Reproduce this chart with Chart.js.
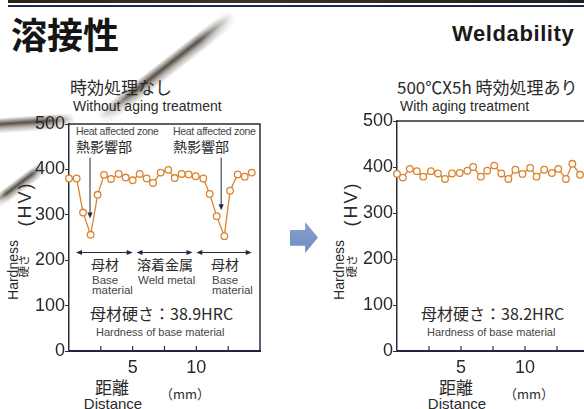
<!DOCTYPE html>
<html>
<head>
<meta charset="utf-8">
<script src="https://cdn.jsdelivr.net/npm/chart.js@4.4.1/dist/chart.umd.min.js"></script>
<style>
  body { margin: 0; width: 584px; height: 409px; overflow: hidden; background: #fff; position: relative;
         font-family: "Liberation Sans", Arial, sans-serif; color: #2a2a2a; }
  .t { position: absolute; white-space: nowrap; line-height: 1; transform: translateY(-50%); }
  .c { position: absolute; white-space: nowrap; line-height: 1; transform: translate(-50%, -50%); }
  .r { position: absolute; white-space: nowrap; line-height: 1; transform: translate(-50%, -50%) rotate(-90deg); }
  .jp { font-family: "Noto Sans CJK JP", sans-serif; }
  .sm { color: #454545; }
  canvas { position: absolute; }
  .streak { position: absolute; background: linear-gradient(to bottom, rgba(255,255,255,0), rgba(45,35,25,.8) 40%, rgba(90,80,65,.45) 65%, rgba(255,255,255,0));
            -webkit-mask-image: linear-gradient(to right, transparent, #000 25%, #000 75%, transparent); }
</style>
</head>
<body>
<!-- header -->
<div style="position:absolute;left:8px;top:0;width:576px;height:3px;background:linear-gradient(to right,#2a2418,#3b3326 40%,#1f1f22)"></div>
<div style="position:absolute;left:8px;top:5px;width:576px;height:1.5px;background:#1d2b52"></div>
<div class="t jp" style="left:11px;top:33px;font-size:36px;font-weight:700;color:#151515">溶接性</div>
<div class="t" style="left:452px;top:34px;font-size:22px;font-weight:700;letter-spacing:0.6px;color:#1a1a1a">Weldability</div>

<!-- scan shading -->
<div class="streak" style="left:82px;top:59px;width:170px;height:18px;transform:rotate(-38deg)"></div>
<div class="streak" style="left:-25px;top:116px;width:100px;height:16px;transform:rotate(-4deg)"></div>
<div class="streak" style="left:-12px;top:178px;width:64px;height:14px;transform:rotate(-37deg)"></div>

<!-- left panel texts -->
<div class="t jp" style="left:70px;top:86px;font-size:17px">時効処理なし</div>
<div class="t" style="left:73px;top:106px;font-size:14px">Without aging treatment</div>
<div class="r" style="left:25px;top:204px;font-size:18px;letter-spacing:2px">(HV)</div>
<div class="r" style="left:13px;top:270px;font-size:14px">Hardness</div>
<div class="r jp" style="left:24px;top:266px;font-size:11.5px">硬さ</div>
<div class="c jp" style="left:112px;top:386px;font-size:17px">距離</div>
<div class="c" style="left:113px;top:403px;font-size:15px">Distance</div>
<div class="c jp" style="left:185px;top:393px;font-size:13px">（mm）</div>

<div class="t sm" style="left:76px;top:131px;font-size:10.5px;letter-spacing:-0.3px">Heat affected zone</div>
<div class="t jp" style="left:76px;top:146px;font-size:14px">熱影響部</div>
<div class="t sm" style="left:173px;top:131px;font-size:10.5px;letter-spacing:-0.3px">Heat affected zone</div>
<div class="t jp" style="left:173px;top:146px;font-size:14px">熱影響部</div>
<div class="c jp" style="left:105px;top:264px;font-size:14px">母材</div>
<div class="c jp" style="left:165px;top:264px;font-size:14px">溶着金属</div>
<div class="c jp" style="left:225px;top:264px;font-size:14px">母材</div>
<div class="t sm" style="left:92px;top:281px;font-size:11.5px">Base</div>
<div class="t sm" style="left:92px;top:291px;font-size:11.5px">material</div>
<div class="t sm" style="left:138px;top:281px;font-size:11.5px">Weld metal</div>
<div class="t sm" style="left:212px;top:281px;font-size:11.5px">Base</div>
<div class="t sm" style="left:212px;top:291px;font-size:11.5px">material</div>
<div class="t jp" style="left:90px;top:313px;font-size:16px">母材硬さ：38.9HRC</div>
<div class="t sm" style="left:96px;top:332px;font-size:11px">Hardness of base material</div>

<!-- arrow between panels -->
<div style="position:absolute;left:290px;top:222px;width:28px;height:31px;background:linear-gradient(to bottom,#86a2d0,#6f8cc0);
  clip-path:polygon(0 26%,54% 26%,54% 0,100% 50%,54% 100%,54% 77%,0 77%)"></div>

<!-- right panel texts -->
<div class="t jp" style="left:397px;top:86px;font-size:17px">500℃X5h 時効処理あり</div>
<div class="t" style="left:400px;top:106px;font-size:14px">With aging treatment</div>
<div class="r" style="left:351px;top:204px;font-size:18px;letter-spacing:2px">(HV)</div>
<div class="r" style="left:339px;top:270px;font-size:14px">Hardness</div>
<div class="r jp" style="left:352px;top:266px;font-size:11.5px">硬さ</div>
<div class="c jp" style="left:456px;top:386px;font-size:17px">距離</div>
<div class="c" style="left:457px;top:403px;font-size:15px">Distance</div>
<div class="c jp" style="left:529px;top:393px;font-size:13px">（mm）</div>
<div class="t jp" style="left:421px;top:313px;font-size:16px">母材硬さ：38.2HRC</div>
<div class="t sm" style="left:427px;top:332px;font-size:11px">Hardness of base material</div>

<canvas id="left" width="290" height="309" style="left:0;top:100px"></canvas>
<canvas id="right" width="320" height="309" style="left:290px;top:100px"></canvas>

<script>
// distance (mm) / Vickers hardness (HV)
const distNoAging = [0, 0.6, 1.1, 1.7, 2.25, 2.75, 3.3, 3.9, 4.45, 5.0, 5.55, 6.1, 6.6, 7.2,
  7.8, 8.3, 8.85, 9.4, 9.95, 10.55, 11.05, 11.6, 12.2, 12.65, 13.25, 13.8, 14.35];
const hvNoAging = [380, 380, 305, 256, 344, 388, 379, 390, 382, 376, 390, 380, 370, 393,
  399, 381, 390, 389, 385, 380, 346, 297, 253, 353, 389, 384, 393];

const distAged = [0, 0.45, 1.0, 1.55, 2.05, 2.65, 3.2, 3.75, 4.3, 4.9, 5.5, 5.95, 6.55, 7.05,
  7.6, 8.15, 8.7, 9.25, 9.8, 10.4, 10.9, 11.5, 12.1, 12.6, 13.2, 13.7, 14.3];
const hvAged = [385, 377, 396, 391, 379, 391, 386, 374, 386, 387, 392, 400, 379, 392,
  403, 386, 374, 394, 385, 398, 379, 394, 387, 396, 374, 407, 383];

const hvTicks = [0, 100, 200, 300, 400, 500];
const distLabels = [5, 10];

// heat affected zone arrows and the base/weld spans (in mm / HV)
const hazArrows = [{ x: 1.65, from: 426, to: 292 }, { x: 11.95, from: 426, to: 310 }];
const zoneSpans = [[0.55, 5.0], [5.3, 9.7], [10.0, 14.35]];
const zoneLevel = 217;

const ORANGE = '#d98530';
const INK = '#22283f';

const framePlugin = {
  id: 'frame',
  afterDatasetsDraw(chart, args, opts) {
    const { ctx, chartArea: a, scales: { x } } = chart;
    ctx.save();
    ctx.strokeStyle = '#2b2d3c';
    ctx.lineWidth = 1.5;
    ctx.beginPath();
    ctx.moveTo(a.left, a.top);
    ctx.lineTo(a.right, a.top);
    if (opts.right) ctx.lineTo(a.right, a.bottom);
    ctx.stroke();
    // small inward ticks on the distance axis
    ctx.lineWidth = 1.2;
    ctx.beginPath();
    x.ticks.forEach((t) => {
      if (t.value <= 0 || t.value >= x.max) return;
      const px = x.getPixelForValue(t.value);
      ctx.moveTo(px, a.bottom);
      ctx.lineTo(px, a.bottom - 5);
    });
    ctx.stroke();
    ctx.restore();
  },
};

function head(ctx, x, y, dx, dy) {
  // filled arrow head pointing along (dx, dy)
  const L = 6, W = 2.6;
  ctx.beginPath();
  ctx.moveTo(x, y);
  ctx.lineTo(x - dx * L - dy * W, y - dy * L + dx * W);
  ctx.lineTo(x - dx * L + dy * W, y - dy * L - dx * W);
  ctx.closePath();
  ctx.fill();
}

const zonePlugin = {
  id: 'zones',
  beforeDatasetsDraw(chart, args, opts) {
    if (!opts.show) return;
    const { ctx, scales: { x, y } } = chart;
    ctx.save();
    ctx.strokeStyle = INK;
    ctx.fillStyle = INK;
    ctx.lineWidth = 1;
    hazArrows.forEach((a) => {
      const px = x.getPixelForValue(a.x);
      const y1 = y.getPixelForValue(a.from), y2 = y.getPixelForValue(a.to);
      ctx.beginPath();
      ctx.moveTo(px, y1);
      ctx.lineTo(px, y2 - 4);
      ctx.stroke();
      head(ctx, px, y2, 0, 1);
    });
    const py = y.getPixelForValue(zoneLevel);
    zoneSpans.forEach(([a, b]) => {
      const x1 = x.getPixelForValue(a), x2 = x.getPixelForValue(b);
      ctx.beginPath();
      ctx.moveTo(x1 + 3, py);
      ctx.lineTo(x2 - 3, py);
      ctx.stroke();
      head(ctx, x1, py, -1, 0);
      head(ctx, x2, py, 1, 0);
    });
    ctx.restore();
  },
};

function makeChart(id, dist, hv, pad, boxRight, annotate) {
  const points = dist.map((d, i) => ({ x: d, y: hv[i] }));
  return new Chart(document.getElementById(id), {
    type: 'line',
    data: {
      datasets: [{
        data: points,
        borderColor: ORANGE,
        borderWidth: 1.3,
        pointRadius: 3.3,
        pointBorderWidth: 1.3,
        pointBackgroundColor: '#fff',
        pointBorderColor: ORANGE,
        tension: 0,
        clip: false,
      }],
    },
    plugins: [framePlugin, zonePlugin],
    options: {
      responsive: false,
      animation: false,
      devicePixelRatio: 1,
      layout: { padding: pad },
      plugins: {
        legend: { display: false },
        tooltip: { enabled: false },
        frame: { right: boxRight },
        zones: { show: annotate },
      },
      scales: {
        x: {
          type: 'linear',
          min: 0,
          max: 15,
          afterFit: (s) => { s.height = 58; },
          border: { display: true, color: '#1e2440', width: 2 },
          grid: { drawOnChartArea: false, drawTicks: false },
          ticks: {
            stepSize: 2.5,
            autoSkip: false,
            maxRotation: 0,
            padding: 6,
            color: '#2a2a2a',
            font: { family: 'Liberation Sans, Arial', size: 18 },
            callback: (v) => (distLabels.includes(v) ? String(v) : ''),
          },
        },
        y: {
          min: hvTicks[0],
          max: hvTicks[hvTicks.length - 1],
          afterFit: (s) => { s.width = 69; },
          afterBuildTicks: (s) => { s.ticks = hvTicks.map((v) => ({ value: v })); },
          border: { display: true, color: '#2b2d3c', width: 1.5 },
          grid: { drawOnChartArea: false, drawTicks: true, tickLength: 4, color: '#2b2d3c' },
          ticks: {
            padding: 0,
            color: '#2a2a2a',
            font: { family: 'Liberation Sans, Arial', size: 18 },
          },
        },
      },
    },
  });
}

makeChart('left', distNoAging, hvNoAging, { top: 24, right: 30, left: 0, bottom: 0 }, true, true);
makeChart('right', distAged, hvAged, { top: 21, right: 21, left: 38, bottom: 0 }, true, false);
</script>
</body>
</html>
